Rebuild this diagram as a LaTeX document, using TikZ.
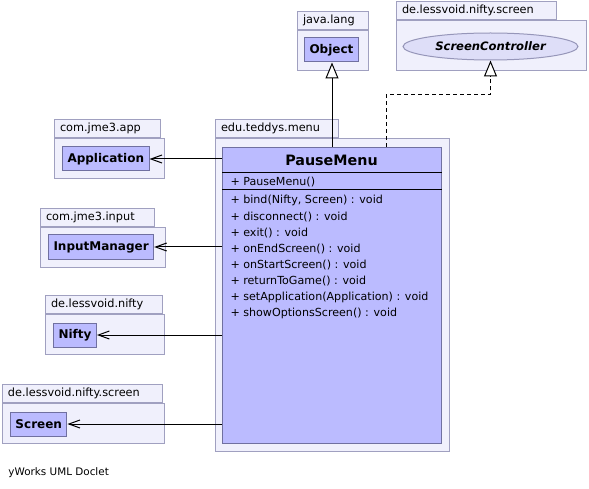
\documentclass[tikz,border=0pt]{standalone}
\usepackage{fontspec}
\setmainfont{DejaVu Sans}
\usetikzlibrary{arrows.meta,shapes.geometric}
\definecolor{pkgfill}{RGB}{240,240,252}
\definecolor{pkgline}{RGB}{160,160,192}
\definecolor{classfill}{RGB}{187,187,255}
\definecolor{classline}{RGB}{112,112,160}
\definecolor{ifacefill}{RGB}{222,222,248}
\definecolor{ifaceline}{RGB}{150,150,185}
\tikzset{
    pkgbody/.style={draw=pkgline,fill=pkgfill,anchor=north west,inner sep=0pt},
    pkgtab/.style={draw=pkgline,fill=pkgfill,anchor=south west,inner xsep=5.5pt,inner ysep=0pt,
        align=left,minimum height=18pt,font=\fontsize{11.3}{13}\selectfont},
    classbox/.style={draw=classline,fill=classfill,anchor=west,minimum height=24pt,inner xsep=5pt,
        font=\bfseries\fontsize{12}{14}\selectfont},
    member/.style={anchor=base west,inner sep=0pt,font=\fontsize{11.1}{13}\selectfont},
    assoc/.style={-{Straight Barb[length=11pt,width=8pt]}},
    gen/.style={-{Triangle[open,length=16pt,width=13pt,fill=white]}},
    realize/.style={gen,dash pattern=on 4pt off 3pt}
}
\begin{document}
\begin{tikzpicture}[x=1pt,y=-1pt,line width=1pt]
    % Fix the page size
    \useasboundingbox[fill=white] (0,0) rectangle (589,489);

    % Draw packages
    \node[pkgbody,minimum width=71pt,minimum height=40pt] (langpkg) at (297,30) {};
    \node[pkgtab,text width=60pt] (langtab) at (langpkg.north west) {java.lang};
    \node[pkgbody,minimum width=190pt,minimum height=50pt] (scrpkgtop) at (396,20) {};
    \node[pkgtab,text width=149pt] (scrtabtop) at (scrpkgtop.north west) {de.lessvoid.nifty.screen};
    \node[pkgbody,minimum width=234pt,minimum height=313pt] (menupkg) at (215,138) {};
    \node[pkgtab,text width=112pt] (menutab) at (menupkg.north west) {edu.teddys.menu};
    \node[pkgbody,minimum width=110pt,minimum height=40pt] (apppkg) at (54,138) {};
    \node[pkgtab,text width=95pt] (apptab) at (apppkg.north west) {com.jme3.app};
    \node[pkgbody,minimum width=125pt,minimum height=40pt] (inputpkg) at (40,227) {};
    \node[pkgtab,text width=103pt] (inputtab) at (inputpkg.north west) {com.jme3.input};
    \node[pkgbody,minimum width=119pt,minimum height=40pt] (niftypkg) at (45,314) {};
    \node[pkgtab,text width=106pt] (niftytab) at (niftypkg.north west) {de.lessvoid.nifty};
    \node[pkgbody,minimum width=162pt,minimum height=40pt] (scrpkg) at (2,403) {};
    \node[pkgtab,text width=149pt] (scrtab) at (scrpkg.north west) {de.lessvoid.nifty.screen};

    % Draw referenced classes
    \node[classbox] (obj) at (304,50) {Object};
    \node[ellipse,draw=ifaceline,fill=ifacefill,minimum width=175pt,minimum height=27pt,
        font=\bfseries\itshape\fontsize{11.6}{14}\selectfont] (sc) at (490.5,46.5) {ScreenController};
    \node[classbox] (app) at (62,159) {Application};
    \node[classbox] (input) at (48,247) {InputManager};
    \node[classbox] (nifty) at (53,335) {Nifty};
    \node[classbox] (scr) at (10,424) {Screen};

    % Draw PauseMenu class
    \node[draw=classline,fill=classfill,anchor=north west,minimum width=219pt,minimum height=296pt,
        inner sep=0pt] (pm) at (222,147) {};
    \node[font=\bfseries\fontsize{14.3}{16}\selectfont] (pmtitle) at (331.5,160) {PauseMenu};
    \draw ([yshift=-26pt]pm.north west) -- ([yshift=-26pt]pm.north east);
    \node[member] (ctor) at (230,186) {+ PauseMenu()};
    \draw ([yshift=-43pt]pm.north west) -- ([yshift=-43pt]pm.north east);
    \foreach \txt [count=\i] in {{bind(Nifty, Screen) : void},{disconnect() : void},{exit() : void},
        {onEndScreen() : void},{onStartScreen() : void},{returnToGame() : void},
        {setApplication(Application) : void},{showOptionsScreen() : void}}
        \node[member] (m\i) at (230,{204+16.1*(\i-1)}) {+ \txt};

    % Draw generalization and realization
    \draw[gen] (pm.north) -- (pm.north |- obj.south);
    \coordinate (bend) at (386,95);
    \draw[realize] (bend |- pm.north) -- (bend) -| (sc.south);

    % Draw associations
    \draw[assoc] (pm.west |- app.east) -- (app.east);
    \draw[assoc] (pm.west |- input.east) -- (input.east);
    \draw[assoc] (pm.west |- nifty.east) -- (nifty.east);
    \draw[assoc] (pm.west |- scr.east) -- (scr.east);

    % Draw footer
    \node[anchor=west,inner sep=0pt,font=\fontsize{10.4}{12}\selectfont] (doclet) at (8,473) {yWorks UML Doclet};
\end{tikzpicture}
\end{document}
